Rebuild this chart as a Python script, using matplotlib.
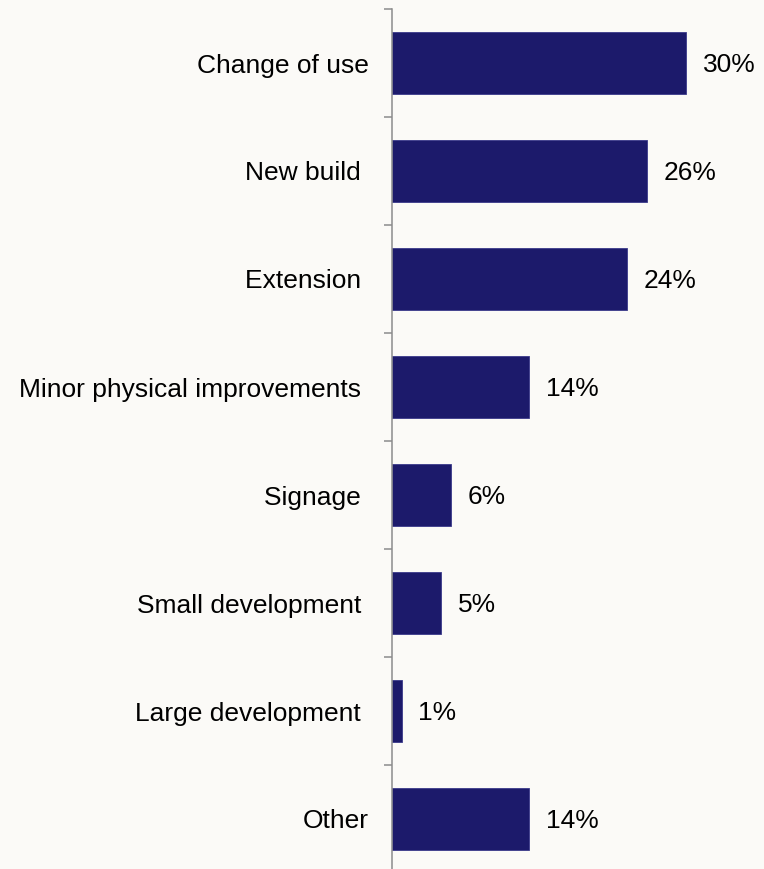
import matplotlib.pyplot as plt

categories = ['Change of use', 'New build ', 'Extension ', 'Minor physical improvements ',
              'Signage ', 'Small development ', 'Large development ', 'Other']
values = [30, 26, 24, 14, 6, 5, 1, 14]
labels = ['30%', '26%', '24%', '14%', '6%', '5%', '1%', '14%']

plt.rcParams['font.family'] = ['Liberation Sans', 'DejaVu Sans']

bg = '#fbfaf7'
fig = plt.figure(figsize=(7.64, 8.69), dpi=100, facecolor=bg)
ax = fig.add_axes([392 / 764, -4 / 869, 372 / 764, 864 / 869])
ax.set_facecolor(bg)

pos = list(range(len(categories)))
bars = ax.barh(pos, values, height=0.565, color='#1c1a6b', edgecolor='#3a3a8a', linewidth=0.6)
for b, lab in zip(bars, labels):
    ax.annotate(lab, (b.get_width(), b.get_y() + b.get_height() / 2),
                xytext=(12, 0), textcoords='offset points',
                va='center_baseline', ha='left', fontsize=19, color='black')

ax.set_xlim(0, 372 / 9.8)
ax.set_ylim(len(categories) - 0.5, -0.5)
ax.set_yticks(pos)
ax.set_yticklabels(categories, fontsize=19)
ax.tick_params(axis='y', which='major', length=0, pad=17)
ax.set_yticks([p - 0.5 for p in pos] + [len(categories) - 0.5], minor=True)
ax.tick_params(axis='y', which='minor', length=6, width=1.1, color='#8c8c8c')
ax.set_xticks([])
for s in ['top', 'right', 'bottom']:
    ax.spines[s].set_visible(False)
ax.spines['left'].set_color('#8c8c8c')
ax.spines['left'].set_linewidth(1.1)

fig.savefig('out.png', dpi=100, facecolor=bg)
